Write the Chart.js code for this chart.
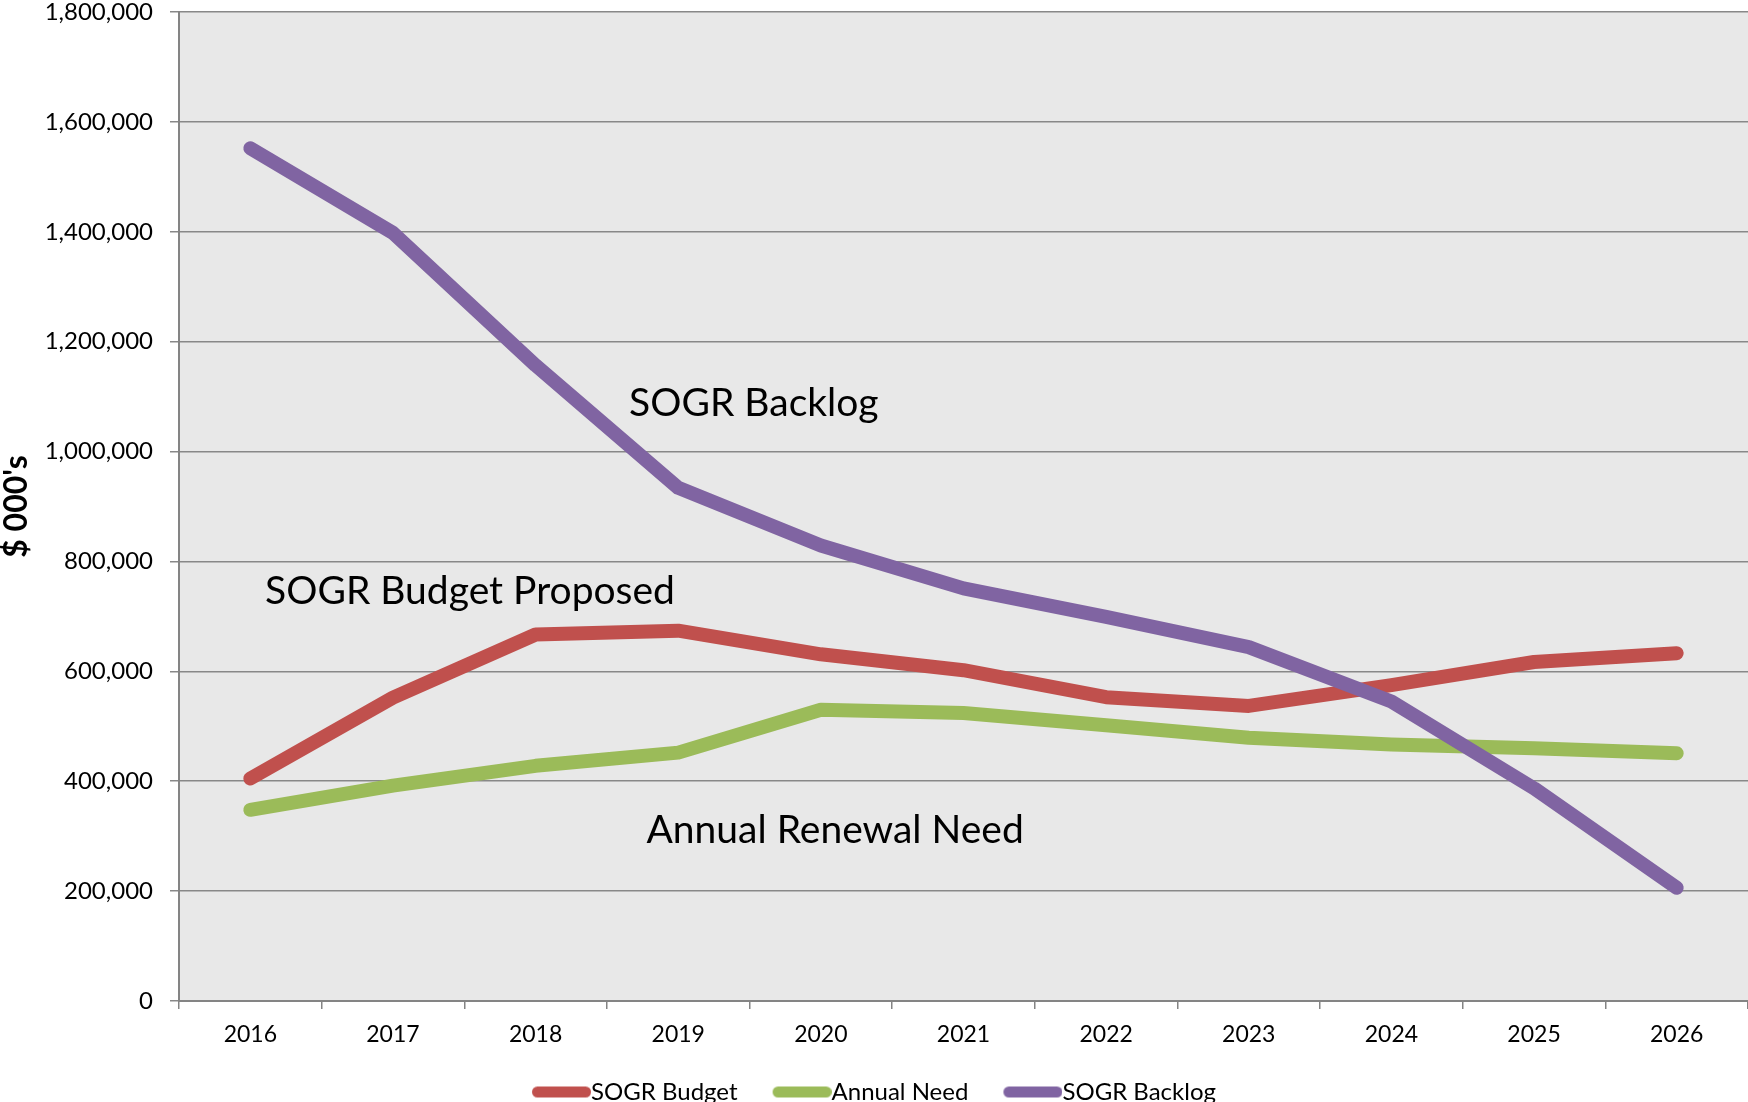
<!DOCTYPE html>
<html>
<head>
<meta charset="utf-8">
<script src="https://cdn.jsdelivr.net/npm/chart.js@4/dist/chart.umd.min.js"></script>
<style>
  html, body { margin: 0; padding: 0; background: #ffffff; }
  #wrap { width: 1748px; height: 1102px; }
</style>
</head>
<body>
<div id="wrap"><canvas id="sogr" width="1748" height="1102"></canvas></div>
<script>
// Years on the category axis
const years = ['2016', '2017', '2018', '2019', '2020', '2021', '2022', '2023', '2024', '2025', '2026'];

// $ 000's per year
const sogrBudget  = [405000, 552000, 667000, 674000, 631000, 602000, 553000, 537000, 575000, 617000, 633000];
const annualNeed  = [348000, 392000, 428000, 452000, 530000, 524000, 502000, 479000, 467000, 460000, 451000];
const sogrBacklog = [1552000, 1398000, 1157000, 934000, 829000, 751000, 699000, 644000, 545000, 387000, 206000];

const seriesNames  = ['SOGR Budget', 'Annual Need', 'SOGR Backlog'];
const seriesColors = ['#C0504D', '#9BBB59', '#8064A2'];

// Value axis range
const yMin = 0;
const yMax = 1800000;
const yStep = 200000;

// In-plot captions, anchored in data space (category index, value)
const captionTexts   = ['SOGR Backlog', 'SOGR Budget Proposed', 'Annual Renewal Need'];
const captionAnchors = [[3.53, 1087000], [1.54, 746000], [4.10, 310000]];

const FONT = 'Lato';

// Legend swatch: a rounded bar that runs right up to the label text.
// Chart.js centres point-style images on the box, so the bar sits in the
// right-hand part of a wider transparent image.
const SWATCH_BOX = 47;      // legend box width (pointStyleWidth)
const SWATCH_LEN = 59;      // visible bar length
const SWATCH_THICK = 11;
function makeSwatch(color) {
  const half = SWATCH_LEN - SWATCH_BOX / 2;
  const w = Math.ceil(half * 2);
  const h = SWATCH_THICK + 2;
  const c = document.createElement('canvas');
  c.width = w;
  c.height = h;
  const g = c.getContext('2d');
  const x0 = w / 2 - SWATCH_BOX / 2;   // left edge of the legend box
  g.strokeStyle = color;
  g.lineWidth = SWATCH_THICK;
  g.lineCap = 'round';
  g.beginPath();
  g.moveTo(x0 + SWATCH_THICK / 2, h / 2);
  g.lineTo(x0 + SWATCH_LEN - SWATCH_THICK / 2, h / 2);
  g.stroke();
  return c;
}

// Light grey plotting area
const plotBackground = {
  id: 'plotBackground',
  beforeDraw(chart) {
    const { ctx, chartArea: a } = chart;
    ctx.save();
    ctx.fillStyle = '#e8e8e8';
    ctx.fillRect(a.left, a.top, a.right - a.left, a.bottom - a.top);
    ctx.restore();
  }
};

// Series captions written inside the plot
const captions = {
  id: 'captions',
  afterDatasetsDraw(chart) {
    const { ctx, scales } = chart;
    ctx.save();
    ctx.font = '39px ' + FONT;
    ctx.fillStyle = '#000000';
    ctx.textAlign = 'center';
    ctx.textBaseline = 'middle';
    captionTexts.forEach((t, i) => {
      const x = scales.x.getPixelForValue(captionAnchors[i][0]);
      const y = scales.y.getPixelForValue(captionAnchors[i][1]);
      ctx.fillText(t, x, y);
    });
    ctx.restore();
  }
};

function build() {
  const series = [sogrBudget, annualNeed, sogrBacklog];
  const swatches = seriesColors.map(makeSwatch);
  const datasets = series.map((values, i) => ({
    label: seriesNames[i],
    data: values,
    borderColor: seriesColors[i],
    backgroundColor: seriesColors[i],
    borderWidth: 14,
    borderCapStyle: 'round',
    borderJoinStyle: 'round',
    pointRadius: 0,
    pointHoverRadius: 0,
    tension: 0,
    fill: false,
    order: series.length - i
  }));

  new Chart(document.getElementById('sogr'), {
    type: 'line',
    data: { labels: years, datasets },
    plugins: [plotBackground, captions],
    options: {
      responsive: false,
      animation: false,
      devicePixelRatio: 1,
      locale: 'en-US',
      events: [],
      layout: { padding: { top: 12, right: 0, bottom: -12, left: 0 } },
      font: { family: FONT },
      plugins: {
        tooltip: { enabled: false },
        legend: {
          position: 'bottom',
          align: 'center',
          labels: {
            usePointStyle: true,
            pointStyleWidth: SWATCH_BOX,
            padding: 35,
            color: '#000000',
            font: { family: FONT, size: 24 },
            generateLabels(chart) {
              return chart.data.datasets.map((ds, i) => ({
                text: ds.label,
                fillStyle: ds.borderColor,
                strokeStyle: ds.borderColor,
                fontColor: '#000000',
                lineWidth: 0,
                pointStyle: swatches[i],
                hidden: false,
                datasetIndex: i
              }));
            }
          }
        }
      },
      scales: {
        x: {
          type: 'category',
          offset: true,
          grid: {
            display: true,
            drawOnChartArea: false,
            drawTicks: true,
            tickLength: 8,
            offset: true,
            color: '#848484',
            lineWidth: 1.5
          },
          border: { display: true, color: '#848484', width: 2 },
          ticks: {
            color: '#000000',
            font: { family: FONT, size: 23 },
            padding: 12,
            maxRotation: 0,
            autoSkip: false
          },
          afterFit(scale) { scale.height = 44; }
        },
        y: {
          min: yMin,
          max: yMax,
          grid: {
            color: '#888888',
            lineWidth: 1.5,
            tickLength: 9,
            drawTicks: true
          },
          border: { display: true, color: '#848484', width: 2 },
          ticks: {
            stepSize: yStep,
            color: '#000000',
            font: { family: FONT, size: 24, lineHeight: 1 },
            padding: 17
          },
          title: {
            display: true,
            text: "$ 000's",
            color: '#000000',
            font: { family: FONT, size: 32, weight: 'bold', lineHeight: 1 },
            padding: { top: 1, bottom: 0 }
          },
          afterFit(scale) {
            scale.width = 179;
            scale.paddingTop = 12;
            scale.paddingBottom = 12;
          }
        }
      }
    }
  });
}

Promise.all([
  document.fonts.load('24px ' + FONT),
  document.fonts.load('bold 32px ' + FONT)
]).then(build, build);
</script>
</body>
</html>
